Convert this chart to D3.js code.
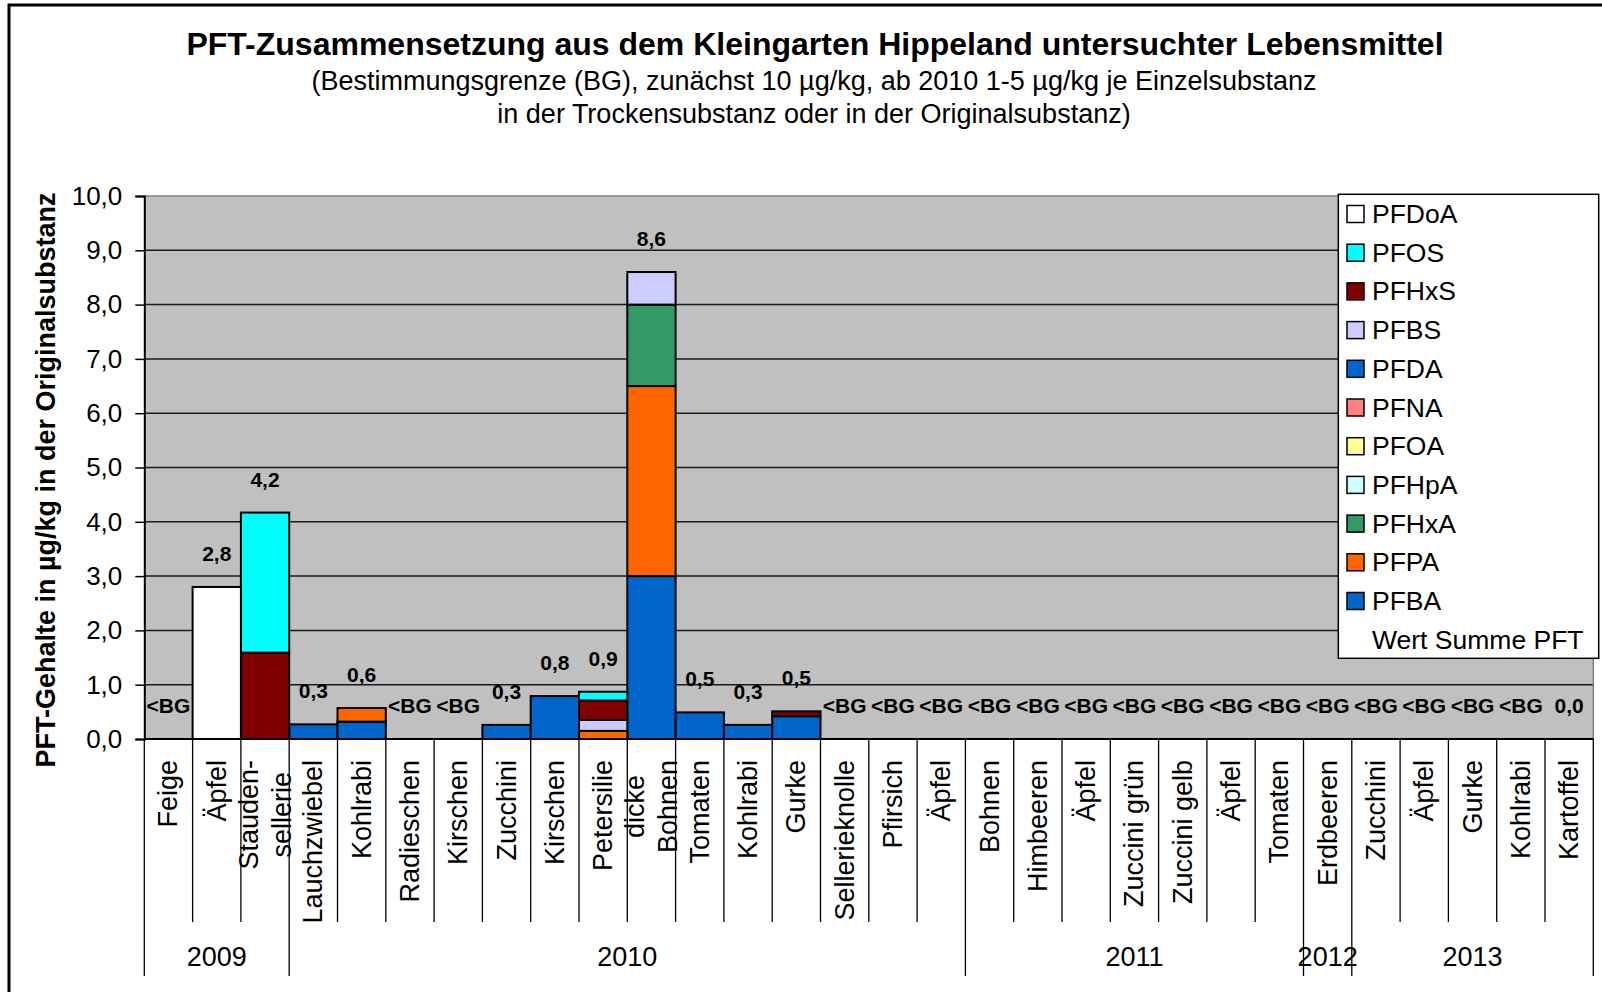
<!DOCTYPE html>
<html>
<head>
<meta charset="utf-8">
<script src="https://cdn.jsdelivr.net/npm/d3@7"></script>
<style>
  body { margin: 0; background: #fff; }
  svg text { font-family: "Liberation Sans", Arial, sans-serif; fill: #000; }
</style>
</head>
<body>
<div id="chart"></div>
<script>
// Daten: Lebensmittel (Kategorien), Jahre, PFT-Einzelsubstanzen
const lebensmittel = ['Feige', 'Äpfel', 'Stauden-\nsellerie', 'Lauchzwiebel', 'Kohlrabi', 'Radieschen', 'Kirschen',
  'Zucchini', 'Kirschen', 'Petersilie', 'dicke\nBohnen', 'Tomaten', 'Kohlrabi', 'Gurke', 'Sellerieknolle',
  'Pfirsich', 'Äpfel', 'Bohnen', 'Himbeeren', 'Äpfel', 'Zuccini grün', 'Zuccini gelb', 'Äpfel', 'Tomaten',
  'Erdbeeren', 'Zucchini', 'Äpfel', 'Gurke', 'Kohlrabi', 'Kartoffel'];

const jahre = ['2009', '2010', '2011', '2012', '2013'];
const jahreAnzahl = [3, 14, 7, 1, 5];

// unter Bestimmungsgrenze -> "<BG"
const unterBG = [true, false, false, false, false, true, true, false, false, false, false, false, false, false,
  true, true, true, true, true, true, true, true, true, true, true, true, true, true, true, false];

// Reihenfolge im Stapel von unten nach oben
const substanzen = ['PFBA', 'PFPA', 'PFHxA', 'PFHpA', 'PFOA', 'PFNA', 'PFDA', 'PFBS', 'PFHxS', 'PFOS', 'PFDoA'];
const farben = ['#0066CC', '#FF6600', '#339966', '#CCFFFF', '#FFFF99', '#FF8080', '#0066CC', '#CCCCFF', '#800000', '#00FFFF', '#FFFFFF'];

const PFBA  = [0, 0, 0, 0.27, 0.32, 0, 0, 0.26, 0.79, 0, 3.0, 0.49, 0.26, 0.42, 0, 0, 0, 0, 0, 0, 0, 0, 0, 0, 0, 0, 0, 0, 0, 0];
const PFPA  = [0, 0, 0, 0, 0.25, 0, 0, 0, 0, 0.15, 3.5, 0, 0, 0, 0, 0, 0, 0, 0, 0, 0, 0, 0, 0, 0, 0, 0, 0, 0, 0];
const PFHxA = [0, 0, 0, 0, 0, 0, 0, 0, 0, 0, 1.5, 0, 0, 0, 0, 0, 0, 0, 0, 0, 0, 0, 0, 0, 0, 0, 0, 0, 0, 0];
const PFHpA = [0, 0, 0, 0, 0, 0, 0, 0, 0, 0, 0, 0, 0, 0, 0, 0, 0, 0, 0, 0, 0, 0, 0, 0, 0, 0, 0, 0, 0, 0];
const PFOA  = [0, 0, 0, 0, 0, 0, 0, 0, 0, 0, 0, 0, 0, 0, 0, 0, 0, 0, 0, 0, 0, 0, 0, 0, 0, 0, 0, 0, 0, 0];
const PFNA  = [0, 0, 0, 0, 0, 0, 0, 0, 0, 0, 0, 0, 0, 0, 0, 0, 0, 0, 0, 0, 0, 0, 0, 0, 0, 0, 0, 0, 0, 0];
const PFDA  = [0, 0, 0, 0, 0, 0, 0, 0, 0, 0, 0, 0, 0, 0, 0, 0, 0, 0, 0, 0, 0, 0, 0, 0, 0, 0, 0, 0, 0, 0];
const PFBS  = [0, 0, 0, 0, 0, 0, 0, 0, 0, 0.2, 0.6, 0, 0, 0, 0, 0, 0, 0, 0, 0, 0, 0, 0, 0, 0, 0, 0, 0, 0, 0];
const PFHxS = [0, 0, 1.59, 0, 0, 0, 0, 0, 0, 0.36, 0, 0, 0, 0.09, 0, 0, 0, 0, 0, 0, 0, 0, 0, 0, 0, 0, 0, 0, 0, 0];
const PFOS  = [0, 0, 2.58, 0, 0, 0, 0, 0, 0, 0.16, 0, 0, 0, 0, 0, 0, 0, 0, 0, 0, 0, 0, 0, 0, 0, 0, 0, 0, 0, 0];
const PFDoA = [0, 2.8, 0, 0, 0, 0, 0, 0, 0, 0, 0, 0, 0, 0, 0, 0, 0, 0, 0, 0, 0, 0, 0, 0, 0, 0, 0, 0, 0, 0];

const yTicks = [0, 1, 2, 3, 4, 5, 6, 7, 8, 9, 10];

const reihen = [PFBA, PFPA, PFHxA, PFHpA, PFOA, PFNA, PFDA, PFBS, PFHxS, PFOS, PFDoA];

const width = 1602;
const height = 992;
const plotLeft = 144.3, plotRight = 1593.3, plotTop = 196, plotBottom = 739;
const font = '"Liberation Sans", Arial, sans-serif';

const svg = d3.select('#chart').append('svg')
  .attr('width', width)
  .attr('height', height);

// Rahmen
svg.append('rect')
  .attr('x', 9).attr('y', 5)
  .attr('width', 1600).attr('height', 1000)
  .attr('fill', 'none').attr('stroke', '#000').attr('stroke-width', 3);

// Titel
svg.append('text')
  .attr('x', 815).attr('y', 55)
  .attr('text-anchor', 'middle')
  .attr('font-size', 32).attr('font-weight', 'bold')
  .text('PFT-Zusammensetzung aus dem Kleingarten Hippeland untersuchter Lebensmittel');
svg.append('text')
  .attr('x', 814).attr('y', 90)
  .attr('text-anchor', 'middle').attr('font-size', 27)
  .text('(Bestimmungsgrenze (BG), zunächst 10 µg/kg, ab 2010 1-5 µg/kg je Einzelsubstanz');
svg.append('text')
  .attr('x', 814).attr('y', 123)
  .attr('text-anchor', 'middle').attr('font-size', 27)
  .text('in der Trockensubstanz oder in der Originalsubstanz)');

// Skalen
const x = d3.scaleBand()
  .domain(d3.range(lebensmittel.length))
  .range([plotLeft, plotRight])
  .padding(0);

const y = d3.scaleLinear()
  .domain([0, 10])
  .range([plotBottom, plotTop]);

// Plotfläche
svg.append('rect')
  .attr('x', plotLeft).attr('y', plotTop)
  .attr('width', plotRight - plotLeft).attr('height', plotBottom - plotTop)
  .attr('fill', '#C0C0C0');

// Gitterlinien
svg.append('g').attr('class', 'grid')
  .selectAll('line')
  .data(yTicks.slice(1))
  .enter()
  .append('line')
  .attr('x1', plotLeft).attr('x2', plotRight)
  .attr('y1', d => y(d)).attr('y2', d => y(d))
  .attr('stroke', d => d === 10 ? '#808080' : '#1a1a1a')
  .attr('stroke-width', 1.5);

svg.append('line')
  .attr('x1', plotRight).attr('x2', plotRight)
  .attr('y1', plotTop).attr('y2', plotBottom)
  .attr('stroke', '#808080').attr('stroke-width', 1.5);

// Stapel
const tabelle = lebensmittel.map((name, i) => {
  const row = { i };
  substanzen.forEach((s, k) => { row[s] = reihen[k][i]; });
  return row;
});
const stack = d3.stack().keys(substanzen)(tabelle);

svg.append('g').attr('class', 'bars')
  .selectAll('g')
  .data(stack)
  .enter()
  .append('g')
  .attr('fill', (d, k) => farben[k])
  .selectAll('rect')
  .data(d => d.filter(p => p[1] - p[0] > 0))
  .enter()
  .append('rect')
  .attr('x', d => x(d.data.i))
  .attr('y', d => y(d[1]))
  .attr('width', x.bandwidth())
  .attr('height', d => y(d[0]) - y(d[1]))
  .attr('stroke', '#000')
  .attr('stroke-width', 2);

// Y-Achse
const yAxis = d3.axisLeft(y)
  .tickValues(yTicks)
  .tickSize(9)
  .tickPadding(13)
  .tickFormat(d => d.toFixed(1).replace('.', ','));

const gy = svg.append('g')
  .attr('transform', `translate(${plotLeft},0)`)
  .call(yAxis);
gy.select('.domain').attr('stroke', '#000').attr('stroke-width', 2);
gy.selectAll('.tick line').attr('stroke', '#000').attr('stroke-width', 1.5);
gy.selectAll('.tick text')
  .attr('font-family', font)
  .attr('font-size', 26)
  .attr('fill', '#000');

// Achsentitel
svg.append('text')
  .attr('transform', 'translate(55,480) rotate(-90)')
  .attr('text-anchor', 'middle')
  .attr('font-size', 27).attr('font-weight', 'bold')
  .text('PFT-Gehalte in µg/kg in der Originalsubstanz');

// X-Achse: Nulllinie
svg.append('line')
  .attr('x1', plotLeft).attr('x2', plotRight)
  .attr('y1', y(0)).attr('y2', y(0))
  .attr('stroke', '#000').attr('stroke-width', 2);

// Gruppengrenzen
const grenzen = [0];
jahreAnzahl.forEach(n => grenzen.push(grenzen[grenzen.length - 1] + n));
const xEdge = i => i < lebensmittel.length ? x(i) : x(lebensmittel.length - 1) + x.bandwidth();

const ticksX = svg.append('g').attr('class', 'xticks');
d3.range(lebensmittel.length + 1).forEach(i => {
  const lang = grenzen.includes(i);
  ticksX.append('line')
    .attr('x1', xEdge(i)).attr('x2', xEdge(i))
    .attr('y1', plotBottom).attr('y2', lang ? 976 : 922)
    .attr('stroke', '#000').attr('stroke-width', 1.3);
});

// Kategoriebeschriftung
const catG = svg.append('g').attr('class', 'categories');
lebensmittel.forEach((name, i) => {
  const lines = name.split('\n');
  const cx = x(i) + x.bandwidth() / 2;
  const top = 760;
  const t = catG.append('text')
    .attr('font-size', 27)
    .attr('text-anchor', 'middle')
    .attr('dominant-baseline', 'central');
  const spans = lines.map((l, j) => t.append('tspan').text(l));
  const maxLen = d3.max(spans, s => s.node().getComputedTextLength());
  spans.forEach((s, j) => {
    const off = (j - (lines.length - 1) / 2) * 33;
    s.attr('x', -(top + maxLen / 2)).attr('y', cx + off);
  });
  t.attr('transform', 'rotate(-90)');
});

// Jahre
jahre.forEach((j, k) => {
  const a = xEdge(grenzen[k]);
  const b = xEdge(grenzen[k + 1]);
  svg.append('text')
    .attr('x', (a + b) / 2).attr('y', 966)
    .attr('text-anchor', 'middle')
    .attr('font-size', 27)
    .text(j);
});

// Summenwerte
const summen = lebensmittel.map((n, i) => d3.sum(reihen, r => r[i]));
svg.append('g').attr('class', 'labels')
  .selectAll('text')
  .data(summen)
  .enter()
  .append('text')
  .attr('x', (d, i) => x(i) + x.bandwidth() / 2)
  .attr('y', d => y(d) - 26)
  .attr('text-anchor', 'middle')
  .attr('font-size', 21).attr('font-weight', 'bold')
  .text((d, i) => unterBG[i] ? '<BG' : d.toFixed(1).replace('.', ','));

// Legende
const legX = 1338.3, legY = 194.3;
const legend = svg.append('g').attr('class', 'legend');
legend.append('rect')
  .attr('x', legX).attr('y', legY)
  .attr('width', 260.4).attr('height', 464)
  .attr('fill', '#fff').attr('stroke', '#000').attr('stroke-width', 1.5);

const legEintraege = substanzen.map((s, k) => ({ name: s, farbe: farben[k] })).reverse();
legEintraege.push({ name: 'Wert Summe PFT', farbe: null });

legEintraege.forEach((e, k) => {
  const cy = 214 + k * 38.7;
  if (e.farbe) {
    legend.append('rect')
      .attr('x', 1347).attr('y', cy - 8.5)
      .attr('width', 17).attr('height', 17)
      .attr('fill', e.farbe).attr('stroke', '#000').attr('stroke-width', 1.5);
  }
  legend.append('text')
    .attr('x', 1372).attr('y', cy)
    .attr('dominant-baseline', 'central')
    .attr('font-size', 26.5)
    .text(e.name);
});
</script>
</body>
</html>
